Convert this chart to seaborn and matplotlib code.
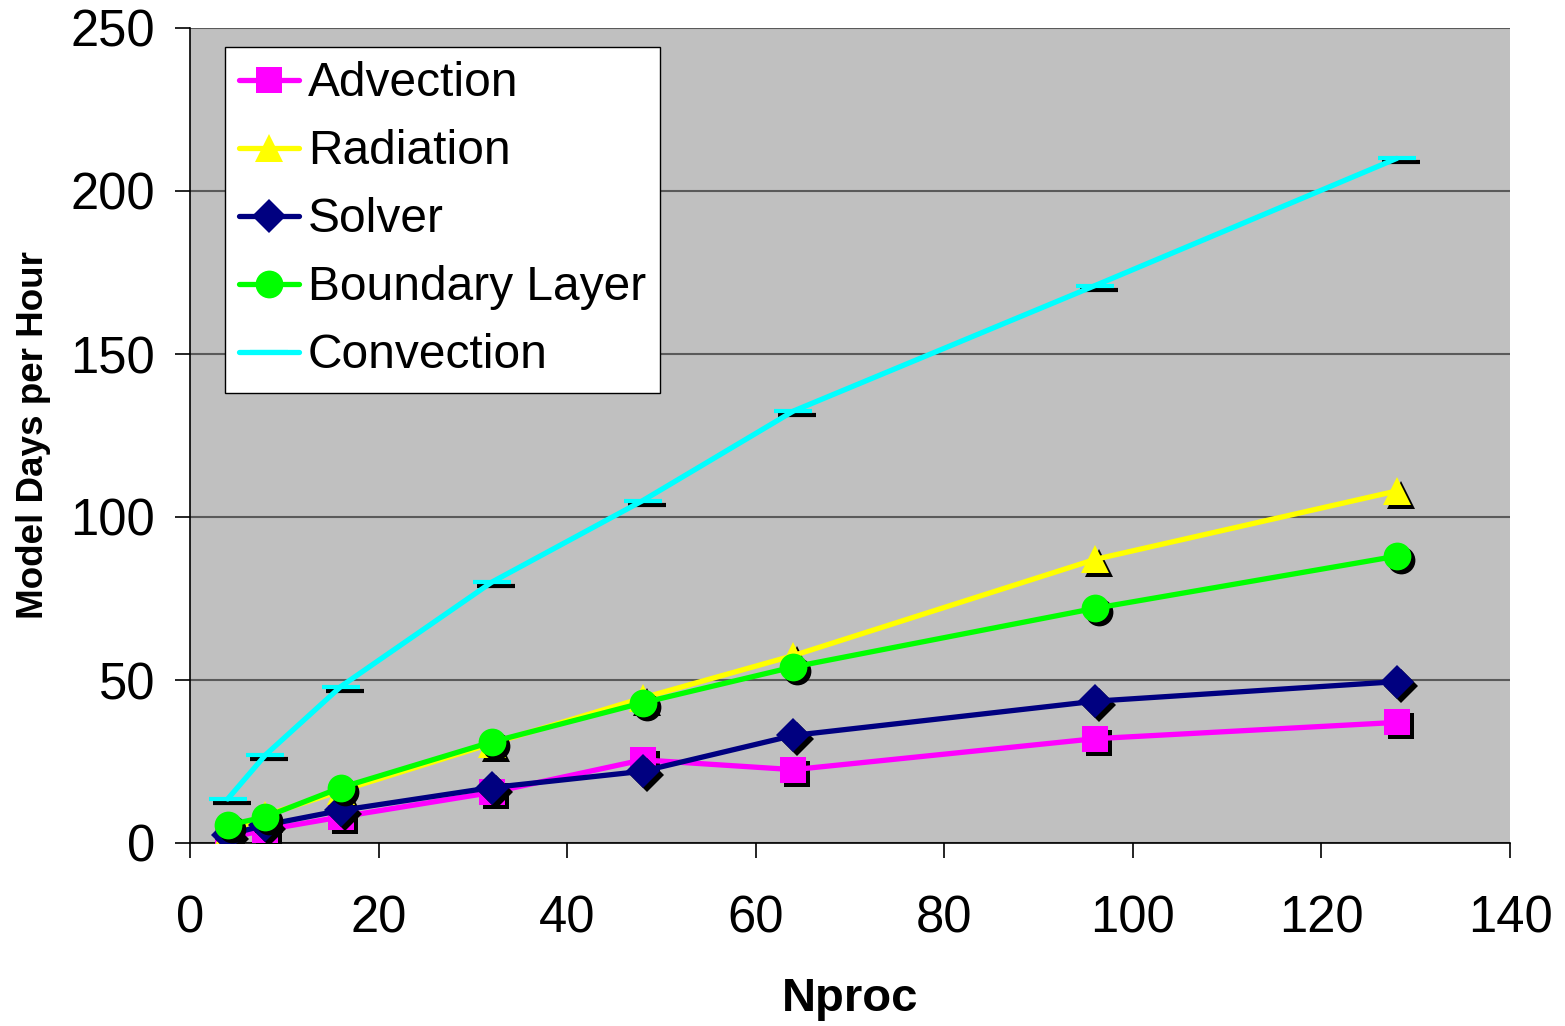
import matplotlib
matplotlib.use("Agg")
import matplotlib.pyplot as plt
import matplotlib.transforms as mtransforms
import seaborn as sns
import pandas as pd

nproc = [4, 8, 16, 32, 48, 64, 96, 128]
advection = [1.5, 4, 8, 15.5, 25.5, 22.5, 32, 37]
radiation = [3, 8.5, 16, 30.5, 44.5, 57.5, 87, 108]
solver = [2.5, 5.5, 10, 17, 22, 33, 43.5, 49.5]
boundary_layer = [5.5, 8, 17, 31, 43, 54, 72, 88]
convection = [13.5, 27, 48, 80, 105, 132.5, 171, 210]

series_names = ["Advection", "Radiation", "Solver", "Boundary Layer", "Convection"]
series_values = [advection, radiation, solver, boundary_layer, convection]
colors = ["#FF00FF", "#FFFF00", "#000080", "#00FF00", "#00FFFF"]
markers = ["s", "^", "D", "o", "_"]
msizes = [19, 20, 17, 20, 28]
mews = [0, 0, 0, 0, 3]

sns.set_style("white")
plt.rcParams["font.family"] = ["Liberation Sans", "DejaVu Sans"]
plt.rcParams["text.color"] = "black"
plt.rcParams["axes.labelcolor"] = "black"
plt.rcParams["xtick.color"] = "black"
plt.rcParams["ytick.color"] = "black"

fig = plt.figure(figsize=(15.65, 10.26), dpi=100)
ax = fig.add_axes([190 / 1565, 1 - 843 / 1026, 1320 / 1565, 815 / 1026])
ax.set_facecolor("#C0C0C0")

shadow = mtransforms.offset_copy(ax.transData, fig=fig, x=4, y=-4, units="dots")

for i, (name, vals) in enumerate(zip(series_names, series_values)):
    z = 3 + i * 2
    ax.plot(nproc, vals, linestyle="none", marker=markers[i], markersize=msizes[i],
            color="black", markeredgecolor="black", markeredgewidth=mews[i],
            transform=shadow, zorder=z)
    df = pd.DataFrame({"Nproc": nproc, "val": vals})
    sns.lineplot(data=df, x="Nproc", y="val", ax=ax, color=colors[i], linewidth=3.8,
                 marker=markers[i], markersize=msizes[i], markeredgewidth=mews[i],
                 markeredgecolor=colors[i], markerfacecolor=colors[i],
                 label=name, zorder=z + 1)

ax.set_xlim(0, 140)
ax.set_ylim(0, 250)
ax.set_xticks(range(0, 141, 20))
ax.set_yticks(range(0, 251, 50))
ax.yaxis.grid(True, color="#5a5a5a", linewidth=1.5)
ax.xaxis.grid(False)
ax.set_axisbelow(True)
for s in ["top", "right"]:
    ax.spines[s].set_visible(False)
for s in ["left", "bottom"]:
    ax.spines[s].set_color("black")
    ax.spines[s].set_linewidth(1.2)

ax.tick_params(axis="both", which="major", labelsize=36.5, direction="out",
               length=11, width=1.2, color="black", labelcolor="black",
               left=True, bottom=True)
ax.tick_params(axis="x", pad=26)
ax.tick_params(axis="y", pad=14)

ax.set_xlabel("Nproc", fontsize=34, fontweight="bold", labelpad=24, color="black")
ax.set_ylabel("Model Days per Hour", fontsize=26.5, fontweight="bold", labelpad=14,
              color="black")

leg = ax.legend(loc="upper left", bbox_to_anchor=(35 / 1320, 1 - 19 / 815),
                borderaxespad=0, fontsize=34.5, frameon=True, fancybox=False,
                framealpha=1, edgecolor="black", handlelength=1.25,
                handletextpad=0.18, labelspacing=0.48, borderpad=0.3)
leg.get_frame().set_linewidth(1.0)
for t in leg.get_texts():
    t.set_color("black")
for h in leg.legend_handles:
    h.set_linewidth(3.8)

fig.savefig("out.png", dpi=100)
